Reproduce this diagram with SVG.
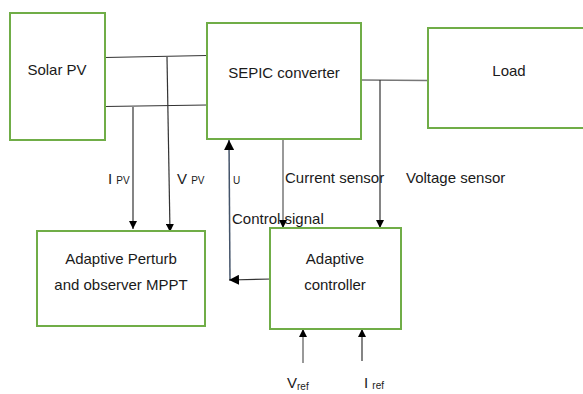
<svg xmlns="http://www.w3.org/2000/svg" width="583" height="394" viewBox="0 0 583 394">
<defs>
<style>
.box{fill:#fff;stroke:#70ad47;stroke-width:2}
.t{font-family:"Liberation Sans",Arial,sans-serif;font-size:15px;fill:#1a1a1a}
.s{font-family:"Liberation Sans",Arial,sans-serif;font-size:10px;fill:#1a1a1a}
.w{stroke:#333;stroke-width:1.2;fill:none}
.g{stroke:#777;stroke-width:1.5;fill:none}
</style>
<marker id="ah" viewBox="0 0 10 10" refX="10" refY="5" markerWidth="8" markerHeight="8" markerUnits="userSpaceOnUse" orient="auto"><path d="M0,0L10,5L0,10z" fill="#000"/></marker>
<marker id="ahl" viewBox="0 0 10 10" refX="10" refY="5" markerWidth="10" markerHeight="10" markerUnits="userSpaceOnUse" orient="auto"><path d="M0,0L10,5L0,10z" fill="#000"/></marker>
</defs>
<rect width="583" height="394" fill="#fff"/>
<g id="connectors">
<path class="w" d="M105,57.5L207,55.5"/>
<path class="w" d="M105,106.5L207,105"/>
<path class="w" d="M133,107L133,229" marker-end="url(#ah)"/>
<path class="w" d="M167,57L170,232" marker-end="url(#ah)"/>
<path class="g" d="M361,80L428,80.5"/>
<path class="w" d="M380,80L380,228" marker-end="url(#ah)"/>
<path class="g" d="M283,139L283,228" marker-end="url(#ah)"/>
<path d="M230,280L229,140" stroke="#44546a" stroke-width="1.5" fill="none" marker-end="url(#ahl)"/>
<path class="w" d="M272,279L229,280" stroke-width="1.8" marker-end="url(#ahl)"/>
<path class="g" d="M303,363L303,329" marker-end="url(#ah)"/>
<path class="w" d="M362,361L362,329" marker-end="url(#ah)"/>
</g>
<g id="solar"><rect class="box" x="10" y="13" width="95" height="127"/><text class="t" x="57" y="75" text-anchor="middle">Solar PV</text></g>
<g id="sepic"><rect class="box" x="207" y="23" width="154" height="116"/><text class="t" x="284" y="78" text-anchor="middle">SEPIC converter</text></g>
<g id="load"><rect class="box" x="428" y="28" width="160" height="100"/><text class="t" x="509" y="76" text-anchor="middle">Load</text></g>
<g id="mppt"><rect class="box" x="37" y="231" width="168" height="95"/><text class="t" x="121" y="264" text-anchor="middle">Adaptive Perturb</text><text class="t" x="121" y="290" text-anchor="middle">and observer MPPT</text></g>
<g id="controller"><rect class="box" x="270" y="228" width="131" height="101"/><text class="t" x="335" y="264" text-anchor="middle">Adaptive</text><text class="t" x="335" y="290" text-anchor="middle">controller</text></g>
<g id="labels">
<text class="t" x="108" y="184">I <tspan class="s">PV</tspan></text>
<text class="t" x="177" y="184">V <tspan class="s">PV</tspan></text>
<text class="s" x="233" y="184">U</text>
<text class="t" x="285" y="183">Current sensor</text>
<text class="t" x="406" y="183">Voltage sensor</text>
<text class="t" x="232" y="224">Control signal</text>
<text class="t" x="287" y="388">V<tspan class="s" dy="2">ref</tspan></text>
<text class="t" x="364" y="388">I <tspan class="s" dy="1">ref</tspan></text>
</g>
</svg>
